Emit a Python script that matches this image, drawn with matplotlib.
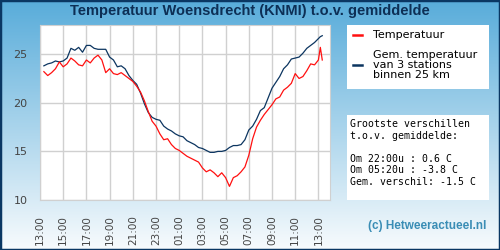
import matplotlib
matplotlib.use("Agg")
import matplotlib.pyplot as plt
from matplotlib.patches import Rectangle
import numpy as np
import pandas as pd

# metingen om de 20 minuten (laatste twee om de 10 minuten)
tijd = pd.date_range("2024-08-01 13:20", "2024-08-02 13:00", freq="20min").append(
    pd.DatetimeIndex(["2024-08-02 13:10", "2024-08-02 13:20"]))

temperatuur = [
    23.2, 22.8, 23.1, 23.5, 24.2, 23.7, 24.0, 24.6, 24.3, 23.9, 23.8, 24.4,
    24.1, 24.6, 24.9, 24.4, 23.1, 23.5, 23.0, 22.9, 23.1, 22.8, 22.5, 22.2,
    21.7, 21.1, 20.2, 19.1, 18.1, 17.6, 16.8, 16.2, 16.3, 15.7, 15.3, 15.1,
    14.8, 14.5, 14.3, 14.1, 13.9, 13.3, 12.9, 13.1, 12.8, 12.4, 12.8, 12.3,
    11.4, 12.3, 12.5, 12.9, 13.4, 14.6, 16.3, 17.5, 18.2, 18.8, 19.3, 19.8,
    20.4, 20.6, 21.3, 21.6, 22.0, 23.0, 22.5, 22.7, 23.3, 24.0, 23.9, 24.4,
    25.7, 24.4,
]
gemiddelde = [
    23.8, 24.0, 24.1, 24.3, 24.2, 24.3, 24.6, 25.6, 25.4, 25.7, 25.2, 25.9,
    25.9, 25.6, 25.5, 25.5, 25.5, 24.7, 24.4, 23.7, 23.8, 23.5, 22.8, 22.3,
    21.9, 21.0, 19.9, 19.0, 18.5, 18.3, 18.2, 17.6, 17.3, 17.1, 16.8, 16.6,
    16.5, 16.1, 15.9, 15.7, 15.4, 15.3, 15.1, 14.9, 14.9, 15.0, 15.0, 15.1,
    15.4, 15.6, 15.6, 15.7, 16.2, 17.2, 17.6, 18.3, 19.2, 19.5, 20.5, 21.5,
    22.1, 22.7, 23.5, 23.9, 24.5, 24.6, 24.7, 25.1, 25.6, 25.9, 26.2, 26.6,
    26.8, 26.9,
]
tick_labels = ["13:00", "15:00", "17:00", "19:00", "21:00", "23:00", "01:00",
               "03:00", "05:00", "07:00", "09:00", "11:00", "13:00"]
y_ticks = [10, 15, 20, 25]

verschillen = ("Grootste verschillen\nt.o.v. gemiddelde:\n\n"
               "Om 22:00u : 0.6 C\nOm 05:20u : -3.8 C\nGem. verschil: -1.5 C")

navy = "#0c3560"
rood = "#ff1010"

start = pd.Timestamp("2024-08-01 13:00")
uren = (tijd - start) / pd.Timedelta(hours=1)

fig = plt.figure(figsize=(5, 2.5), dpi=100)

# achtergrond met kleurverloop (boven blauw, onder bijna wit)
bg = fig.add_axes([0, 0, 1, 1], zorder=-10)
top = np.array([88, 172, 218]) / 255
bot = np.array([248, 251, 253]) / 255
t = np.linspace(0, 1, 256)[:, None]
grad = top * (1 - t) + bot * t
bg.imshow(grad[:, None, :], aspect="auto", extent=[0, 1, 0, 1], origin="upper")
bg.set_xlim(0, 1)
bg.set_ylim(0, 1)
bg.axis("off")

fig.text(0.5, 0.955, "Temperatuur Woensdrecht (KNMI) t.o.v. gemiddelde",
         ha="center", va="center", fontsize=10.5, fontweight="bold",
         color="#0d2f55", family="Liberation Sans")

ax = fig.add_axes([0.08, 0.2, 0.58, 0.7])
ax.set_facecolor("white")
ax.plot(uren, gemiddelde, color=navy, lw=0.9)
ax.plot(uren, temperatuur, color=rood, lw=0.9)
ax.set_xlim(0, 25)
ax.set_ylim(10, 28)
ax.set_xticks(range(0, 25, 2))
ax.set_xticklabels(tick_labels, rotation=90, fontsize=7.5, color="#444444")
ax.set_yticks(y_ticks)
ax.set_yticklabels([str(v) for v in y_ticks], fontsize=8, color="#444444")
ax.tick_params(length=0, pad=9)
ax.tick_params(axis="x", pad=11)
ax.grid(True, color="#d0d0d0", lw=1)
ax.set_axisbelow(True)
for s in ax.spines.values():
    s.set_color("#d0d0d0")

# legenda
fig.patches.append(Rectangle((347 / 500, 1 - 89 / 250), 142 / 500, 64 / 250,
                             transform=fig.transFigure, facecolor="white",
                             edgecolor="none", zorder=1))
fig.add_artist(plt.Line2D([353 / 500, 362 / 500], [1 - 35 / 250] * 2,
                          color=rood, lw=1.8, transform=fig.transFigure))
fig.add_artist(plt.Line2D([353 / 500, 362 / 500], [1 - 65 / 250] * 2,
                          color=navy, lw=1.8, transform=fig.transFigure))
fig.text(373 / 500, 1 - 35 / 250, "Temperatuur", fontsize=8, va="center")
fig.text(373 / 500, 1 - 65 / 250, "Gem. temperatuur\nvan 3 stations\nbinnen 25 km",
         fontsize=8, va="center", linespacing=1.0)

# verschillen
fig.patches.append(Rectangle((347 / 500, 1 - 200 / 250), 142 / 500, 85 / 250,
                             transform=fig.transFigure, facecolor="white",
                             edgecolor="none", zorder=1))
fig.text(350 / 500, 1 - 119 / 250, verschillen, fontsize=7.1, va="top",
         family="DejaVu Sans Mono", linespacing=1.2)

fig.text(486 / 500, 1 - 226 / 250, "(c) Hetweeractueel.nl", ha="right",
         va="center", fontsize=8.5, fontweight="bold", color="#3a8db5",
         family="Liberation Sans")

fig.patches.append(Rectangle((0, 0), 1, 1, transform=fig.transFigure,
                             fill=False, edgecolor="#0a3763", lw=2.5, zorder=5))

fig.savefig("out.png", dpi=100)
